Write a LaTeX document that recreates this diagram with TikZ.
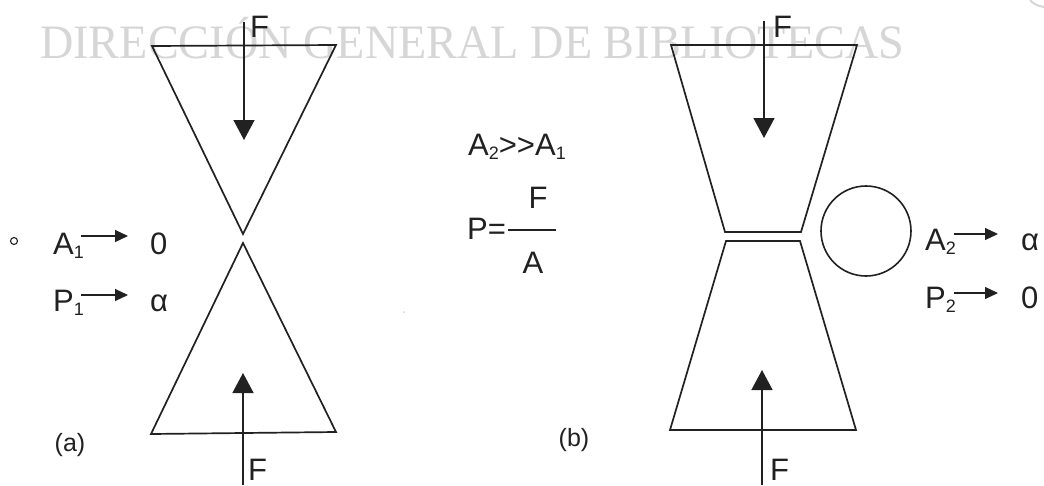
\documentclass[tikz,border=0pt]{standalone}
\usepackage{fontspec}
\setmainfont{Liberation Sans}
\newfontfamily\wmfont{Liberation Serif}
\usetikzlibrary{arrows.meta}
\definecolor{ink}{gray}{0.13}
\definecolor{wm}{gray}{0.84}
\tikzset{
  x=1pt,y=-1pt,
  shape line/.style={draw=ink,line width=1.7pt,line join=miter},
  force/.style={draw=ink,line width=1.5pt,-{Triangle[length=20pt,width=21pt]}},
  small arrow/.style={draw=ink,line width=1.2pt,-{Triangle[length=13pt,width=12pt]}},
  lab/.style={text=ink,font=\fontsize{31}{34}\selectfont,inner sep=0pt,anchor=base west},
  partlabel/.style={text=ink,font=\fontsize{25}{28}\selectfont,inner sep=0pt,anchor=center},
}
\newcommand{\sbs}[1]{\raisebox{-4.5pt}{\fontsize{18}{20}\selectfont #1}}
\begin{document}
\begin{tikzpicture}
\useasboundingbox (0,0) rectangle (1044,485);
\fill[white] (0,0) rectangle (1044,485);
% watermark
\node[text=wm,inner sep=0pt,anchor=base west,font=\wmfont\fontsize{48}{50}\selectfont] (wmark) at (40,58) {\scalebox{0.963}[1]{DIRECCIÓN GENERAL DE BIBLIOTECAS}};
\draw[wm,line width=2pt] (1030,0) .. controls (1033,4) and (1038,6) .. (1044,7);
% (a)
\draw[shape line] (152,46) -- (336,45) -- (243,234) -- cycle;
\draw[shape line] (243,243) -- (151,434) -- (336,432) -- cycle;
\coordinate (a1s) at (244,22); \coordinate (a1e) at (244,140);
\coordinate (a2s) at (243,485); \coordinate (a2e) at (243,373);
\draw[force] (a1s) -- (a1e);
\draw[force] (a2s) -- (a2e);
\node[lab] (fa1) at (250,37) {F};
\node[lab] (fa2) at (248,480) {F};
\draw[ink,line width=1.1pt] (14,241) circle (3.5);
\node[lab] (A1) at (53,254) {A\sbs{1}};
\node[lab] (Z1) at (150,254) {0};
\node[lab] (P1) at (53,311) {P\sbs{1}};
\node[lab] (al1) at (150,311) {α};
\coordinate (pa1) at (81,236); \coordinate (pa2) at (128,236);
\coordinate (pb1) at (81,295); \coordinate (pb2) at (128,295);
\draw[small arrow] (pa1) -- (pa2);
\draw[small arrow] (pb1) -- (pb2);
\node[partlabel] (la) at (70,445) {(a)};
% centre
\node[lab] (rel) at (468,155) {A\sbs{2}{>}{>}A\sbs{1}};
\node[lab] (Peq) at (467,239) {P=};
\coordinate (fr1) at (508,230); \coordinate (fr2) at (556,230);
\draw[ink,line width=1.2pt] (fr1) -- (fr2);
\node[lab,anchor=base] (frF) at (538,208) {F};
\node[lab,anchor=base] (frA) at (533,273) {A};
\fill[wm] (404,312) circle (1);
% (b)
\draw[shape line] (671,45) -- (857,45) -- (801,232) -- (725,232) -- cycle;
\draw[shape line] (726,241) -- (800,241) -- (856,430) -- (670,430) -- cycle;
\coordinate (b1s) at (764,21); \coordinate (b1e) at (764,138);
\coordinate (b2s) at (762,485); \coordinate (b2e) at (762,370);
\draw[force] (b1s) -- (b1e);
\draw[force] (b2s) -- (b2e);
\node[lab] (fb1) at (773,37) {F};
\node[lab] (fb2) at (770,480) {F};
\node[draw=ink,line width=1.6pt,circle,minimum size=90pt,inner sep=0pt] (circ) at (866,231) {};
\node[lab] (A2) at (925,250) {A\sbs{2}};
\node[lab] (al2) at (1021,250) {α};
\node[lab] (P2) at (925,308) {P\sbs{2}};
\node[lab] (Z2) at (1021,308) {0};
\coordinate (qa1) at (954,234); \coordinate (qa2) at (998,234);
\coordinate (qb1) at (954,293); \coordinate (qb2) at (998,293);
\draw[small arrow] (qa1) -- (qa2);
\draw[small arrow] (qb1) -- (qb2);
\node[partlabel] (lb) at (574,440) {(b)};
\end{tikzpicture}
\end{document}
